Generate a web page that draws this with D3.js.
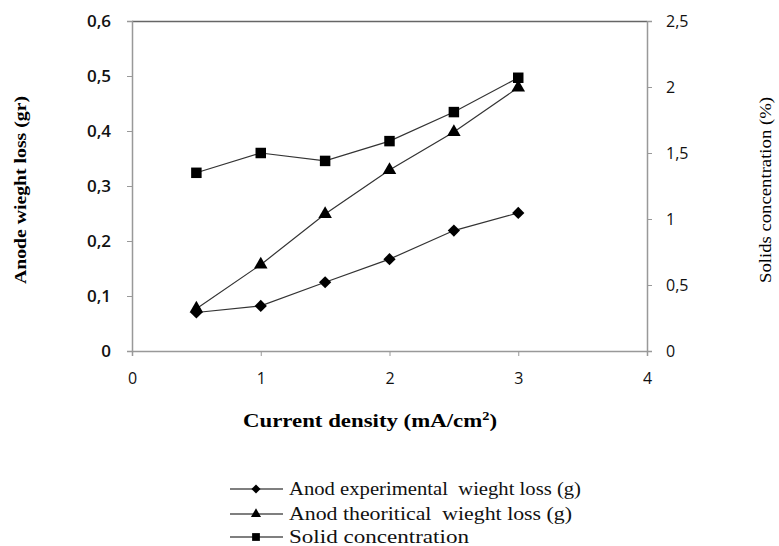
<!DOCTYPE html>
<html>
<head>
<meta charset="utf-8">
<script src="https://cdn.jsdelivr.net/npm/d3@7"></script>
<style>
  body { margin: 0; background: #fff; }
  svg { display: block; }
</style>
</head>
<body>
<div id="master"></div>
<script>
// data
let density = [0.5, 1, 1.5, 2, 2.5, 3];
let experimental = [0.07, 0.082, 0.125, 0.167, 0.219, 0.251];
let theoretical = [0.077, 0.157, 0.249, 0.329, 0.398, 0.479];
let solids = [1.35, 1.5, 1.44, 1.59, 1.81, 2.07];
let leftTicks = [0, 0.1, 0.2, 0.3, 0.4, 0.5, 0.6];
let rightTicks = [0, 0.5, 1, 1.5, 2, 2.5];
let xTicks = [0, 1, 2, 3, 4];
let legendNames = ["Anod experimental  wieght loss (g)", "Anod theoritical  wieght loss (g)", "Solid concentration"];

let w = 779, h = 546;
let plot = { left: 132, right: 647, top: 21, bottom: 351 };

let svg = d3.select("#master").append("svg").attr("width", w).attr("height", h);

let xScale = d3.scaleLinear().domain([0, 4]).range([plot.left, plot.right]);
let yLeft = d3.scaleLinear().domain([0, 0.6]).range([plot.bottom, plot.top]);
let yRight = d3.scaleLinear().domain([0, 2.5]).range([plot.bottom, plot.top]);
let comma = d => String(d).replace(".", ",");

let tickFont = "'Open Sans', 'Liberation Sans', sans-serif";
let serif = "'Liberation Serif', 'DejaVu Serif', serif";

// top border
svg.append("line").attr("x1", plot.left).attr("x2", plot.right)
  .attr("y1", plot.top + 0.5).attr("y2", plot.top + 0.5)
  .attr("stroke", "#666").attr("stroke-width", 1.5);

// axes
let xAxis = d3.axisBottom(xScale).tickValues(xTicks).tickFormat(comma).tickSize(5).tickPadding(17);
let gx = svg.append("g").attr("transform", "translate(0," + plot.bottom + ")").call(xAxis);
let yAxisL = d3.axisLeft(yLeft).tickValues(leftTicks).tickFormat(comma).tickSize(5).tickPadding(16);
let gl = svg.append("g").attr("transform", "translate(" + plot.left + ",0)").call(yAxisL);
let yAxisR = d3.axisRight(yRight).tickValues(rightTicks).tickFormat(comma).tickSize(5).tickPadding(14);
let gr = svg.append("g").attr("transform", "translate(" + plot.right + ",0)").call(yAxisR);

[gx, gl, gr].forEach(g => {
  g.select(".domain").attr("stroke", "#999").attr("stroke-width", 1.5);
  g.selectAll(".tick line").attr("stroke", "#999");
  g.selectAll("text").attr("font-family", tickFont).attr("font-size", 16).attr("fill", "#111");
});
gl.selectAll("text").attr("font-weight", 600).attr("font-size", 17);

// axis titles
svg.append("text").attr("x", 243).attr("y", 427)
  .attr("font-family", serif).attr("font-weight", "bold").attr("font-size", 19)
  .attr("textLength", 254).attr("lengthAdjust", "spacingAndGlyphs")
  .html("Current density (mA/cm<tspan dy='-7' font-size='12'>2</tspan><tspan dy='7'>)</tspan>");
svg.append("text").attr("transform", "translate(26,190) rotate(-90)").attr("text-anchor", "middle")
  .attr("font-family", serif).attr("font-weight", "bold").attr("font-size", 17)
  .attr("textLength", 188).attr("lengthAdjust", "spacingAndGlyphs")
  .text("Anode wieght  loss (gr)");
svg.append("text").attr("transform", "translate(771,190) rotate(-90)").attr("text-anchor", "middle")
  .attr("font-family", serif).attr("font-size", 17)
  .attr("textLength", 186).attr("lengthAdjust", "spacingAndGlyphs")
  .text("Solids concentration (%)");

// series
let diamond = { draw: (ctx, size) => {
  let r = Math.sqrt(size) / 2;
  ctx.moveTo(0, -r); ctx.lineTo(r, 0); ctx.lineTo(0, r); ctx.lineTo(-r, 0); ctx.closePath();
} };
let series = [
  { values: experimental, scale: yLeft, symbol: diamond, size: 150 },
  { values: theoretical, scale: yLeft, symbol: d3.symbolTriangle, size: 80 },
  { values: solids, scale: yRight, symbol: d3.symbolSquare, size: 110 }
];

series.forEach(s => {
  let line = d3.line().x((d, i) => xScale(density[i])).y(d => s.scale(d));
  svg.append("path").datum(s.values).attr("d", line)
    .attr("fill", "none").attr("stroke", "#333").attr("stroke-width", 1.2);
  svg.selectAll(null).data(s.values).enter().append("path")
    .attr("d", d3.symbol().type(s.symbol).size(s.size))
    .attr("transform", (d, i) => "translate(" + xScale(density[i]) + "," + s.scale(d) + ")")
    .attr("fill", "#000");
});

// legend
let legend = svg.append("g");
let rowY = [489, 514, 537];
let rowLen = [292, 283, 180];
series.forEach((s, i) => {
  legend.append("line").attr("x1", 230).attr("x2", 283).attr("y1", rowY[i]).attr("y2", rowY[i])
    .attr("stroke", "#000").attr("stroke-width", 1.2);
  legend.append("path").attr("d", d3.symbol().type(s.symbol).size(s.size * 0.55))
    .attr("transform", "translate(256," + rowY[i] + ")").attr("fill", "#000");
  legend.append("text").attr("x", 289).attr("y", rowY[i] + 6)
    .attr("font-family", serif).attr("font-size", 19).attr("fill", "#111")
    .attr("textLength", rowLen[i]).attr("lengthAdjust", "spacingAndGlyphs")
    .style("white-space", "pre")
    .text(legendNames[i]);
});
</script>
</body>
</html>
